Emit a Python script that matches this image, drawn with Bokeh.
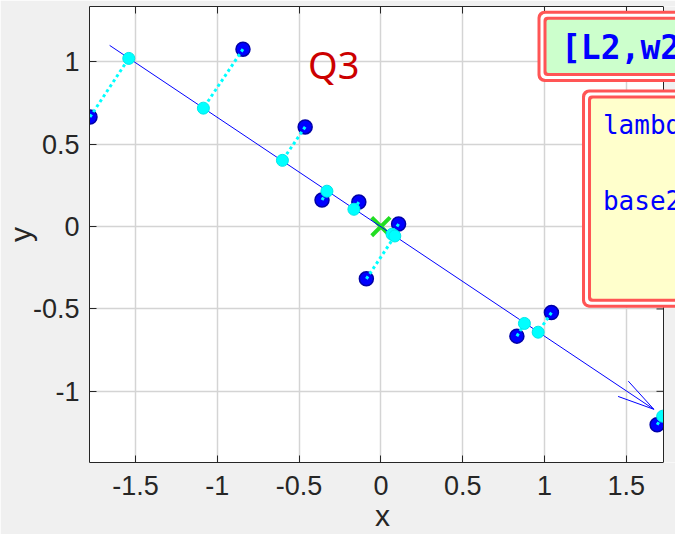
import math
from bokeh.plotting import figure
from bokeh.models import (Range1d, LinearAxis, FixedTicker, BoxAnnotation, Label, Span,
                          CustomJSTickFormatter)
from bokeh.embed import file_html
from bokeh.resources import INLINE

# ---------------- data ----------------
pts_x = [-1.778, -0.843, -0.463, -0.360, -0.135, 0.108, -0.089, 0.831, 1.042, 1.688]
pts_y = [0.665, 1.077, 0.605, 0.161, 0.149, 0.016, -0.317, -0.665, -0.522, -1.203]
proj_x = [-1.541, -1.085, -0.602, -0.330, -0.165, 0.068, 0.085, 0.877, 0.961, 1.722]
proj_y = [1.021, 0.719, 0.402, 0.215, 0.105, -0.046, -0.057, -0.588, -0.641, -1.151]
line_x = [-1.658, 1.668]
line_y = [1.100, -1.109]
center_x = [0.0]
center_y = [0.0]
x_lim = [-1.781, 1.727]
y_lim = [-1.432, 1.336]
x_ticks = [-1.5, -1.0, -0.5, 0.0, 0.5, 1.0, 1.5]
x_tick_labels = ["-1.5", "-1", "-0.5", "0", "0.5", "1", "1.5"]
y_ticks = [-1.0, -0.5, 0.0, 0.5, 1.0]
y_tick_labels = ["-1", "-0.5", "0", "0.5", "1"]
title_text = "Q3"
box1_text = "[L2,w2]"
box2_lines = ["lambda", "base2"]

# ---------------- layout ----------------
W, H = 675, 534
BL, BT, BB = 89, 6, 72
AX_RIGHT = 663            # pixel where the axes box ends on the right
FW, FH = W - BL, H - BT - BB
sx = (AX_RIGHT - BL) / (x_lim[1] - x_lim[0])
sy = FH / (y_lim[1] - y_lim[0])
x_end = x_lim[1] + (W - AX_RIGHT) / sx   # frame runs to the canvas edge

p = figure(width=W, height=H, output_backend="svg", toolbar_location=None,
           x_range=Range1d(x_lim[0], x_end), y_range=Range1d(y_lim[0], y_lim[1]),
           min_border_left=BL, min_border_right=0, min_border_top=BT, min_border_bottom=BB,
           background_fill_color="white", border_fill_color="#f0f0f0",
           outline_line_color=None)

axis_col = "#262626"
xt = FixedTicker(ticks=x_ticks)
yt = FixedTicker(ticks=y_ticks)

def style_axis(ax, ticker, overrides=None):
    ax.ticker = ticker
    ax.axis_line_color = axis_col
    ax.major_tick_line_color = axis_col
    ax.major_tick_in = 7
    ax.major_tick_out = 0
    ax.minor_tick_line_color = None
    ax.major_label_text_font = "Liberation Sans"
    ax.major_label_text_font_size = "27px"
    ax.major_label_text_color = axis_col
    ax.axis_label_text_font = "Liberation Sans"
    ax.axis_label_text_font_size = "30px"
    ax.axis_label_text_font_style = "normal"
    ax.axis_label_text_color = axis_col
    if overrides is not None:
        ax.major_label_overrides = overrides

xa = p.xaxis[0]
ya = p.yaxis[0]
style_axis(xa, xt, {t: l for t, l in zip(x_ticks, x_tick_labels)})
style_axis(ya, yt, {t: l for t, l in zip(y_ticks, y_tick_labels)})
xa.bounds = (x_lim[0], x_lim[1])
xa.axis_label = "x"
ya.axis_label = "y"
xa.major_label_standoff = 13
xa.axis_label_standoff = 1
ya.major_label_standoff = 10
ya.axis_label_standoff = -7

blank = CustomJSTickFormatter(code="return ''")
top_ax = LinearAxis(formatter=blank, major_label_standoff=0)
style_axis(top_ax, xt)
top_ax.major_label_text_font_size = "0px"
top_ax.bounds = (x_lim[0], x_lim[1])
p.add_layout(top_ax, "above")

p.xgrid.ticker = xt
p.ygrid.ticker = yt
for g in (p.xgrid, p.ygrid):
    g.grid_line_color = "#d4d4d4"
    g.grid_line_width = 1.5

# ---------------- glyphs ----------------
p.scatter(center_x, center_y, marker="x", size=26, line_color="#22dd22", line_width=4)
p.line(line_x, line_y, line_color="#0000ff", line_width=1)

# arrow head derived from the line direction
vx = (line_x[1] - line_x[0]) * sx
vy = (line_y[1] - line_y[0]) * sy
L = math.hypot(vx, vy)
ux, uy = vx / L, vy / L
head_len, ang = 38.0, math.radians(14)
hxs, hys = [], []
for s in (1, -1):
    c, sn = math.cos(s * ang), math.sin(s * ang)
    bx = -(ux * c - uy * sn) * head_len
    by = -(ux * sn + uy * c) * head_len
    hxs.append([line_x[1], line_x[1] + bx / sx])
    hys.append([line_y[1], line_y[1] + by / sy])
p.multi_line(hxs, hys, line_color="#0000ff", line_width=1)

p.scatter(pts_x, pts_y, size=14, fill_color="#0000ff", line_color="#0000a8", line_width=1.5)
p.segment(pts_x, pts_y, proj_x, proj_y, line_color="#00ffff", line_width=3,
          line_dash="3 3", line_cap="butt")
p.scatter(proj_x, proj_y, size=12, fill_color="#00ffff", line_color="#00e8e8", line_width=1)

# right-hand ticks of the axes box (pointing inward)
tick_len = 7 / sx
p.segment([x_lim[1]] * len(y_ticks), y_ticks, [x_lim[1] - tick_len] * len(y_ticks), y_ticks,
          line_color=axis_col, line_width=1)

# ---------------- annotations ----------------
# grey figure area right of the axes box, and the box's right edge
p.add_layout(BoxAnnotation(left=x_lim[1], fill_color="#f0f0f0", fill_alpha=1.0,
                           line_color=None))
p.add_layout(Span(location=x_lim[1], dimension="height", line_color=axis_col, line_width=1))

p.add_layout(Label(x=-0.445, y=0.99, text=title_text, text_color="#cc0000",
                   text_font="Noto Sans", text_font_size="38px",
                   text_baseline="middle"))

# text boxes: red / white / red bands, then the fill (the boxes run off the right edge)
red = "#ff5555"
far = x_end + 1.0
def text_box(left, top, bottom, fill):
    bands = [(0, red, 7), (3, "#ffffff", 5), (6, red, 4), (9, fill, 2)]
    for inset, col, rad in bands:
        p.add_layout(BoxAnnotation(left=left + inset / sx, right=far,
                                   top=top - inset / sy, bottom=bottom + inset / sy,
                                   fill_color=col, fill_alpha=1.0, line_color=None,
                                   border_radius=rad))

text_box(0.957, 1.310, 0.878, "#ccffcc")
p.add_layout(Label(x=1.100, y=1.085, text=box1_text, text_color="#0000ff",
                   text_font="DejaVu Sans Mono", text_font_size="33px",
                   text_font_style="bold", text_baseline="middle"))

text_box(1.229, 0.832, -0.492, "#ffffcc")
for txt, yy in zip(box2_lines, [0.614, 0.156]):
    p.add_layout(Label(x=1.357, y=yy, text=txt, text_color="#0000ff",
                       text_font="DejaVu Sans Mono", text_font_size="26px",
                       text_baseline="middle"))

open("out.html", "w").write(file_html(p, INLINE))
